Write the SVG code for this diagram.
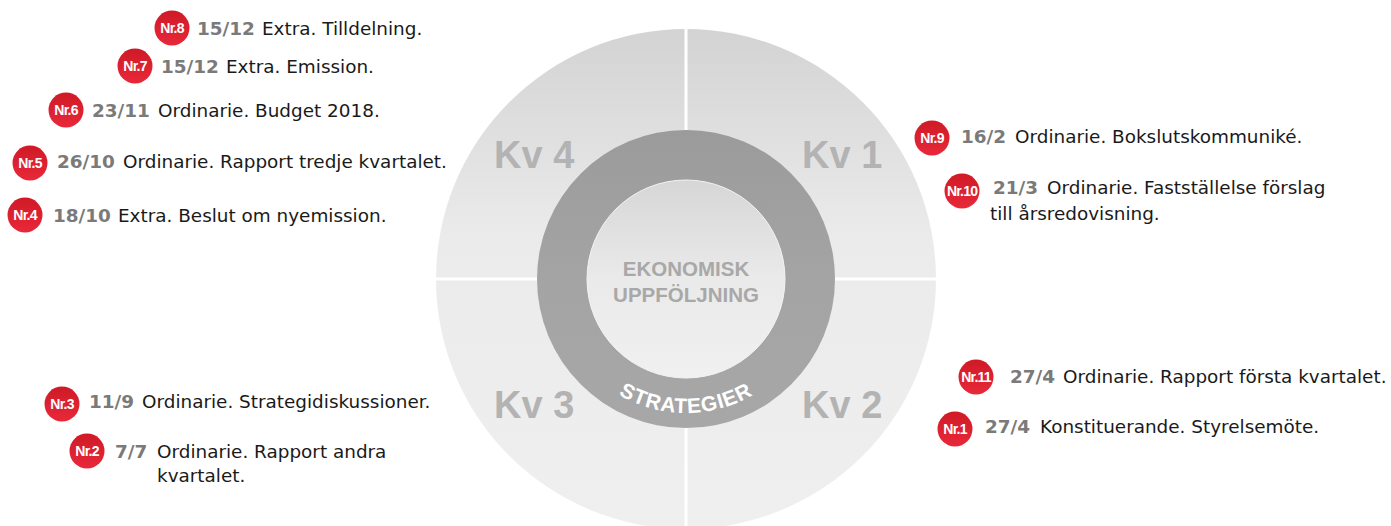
<svg xmlns="http://www.w3.org/2000/svg" width="1391" height="526" viewBox="0 0 1391 526">
<defs>
<linearGradient id="gBig" x1="0" y1="29" x2="0" y2="529" gradientUnits="userSpaceOnUse">
<stop offset="0" stop-color="#d3d3d3"/><stop offset="0.42" stop-color="#ebebeb"/><stop offset="1" stop-color="#efefef"/>
</linearGradient>
<linearGradient id="gRing" x1="0" y1="130" x2="0" y2="428" gradientUnits="userSpaceOnUse">
<stop offset="0" stop-color="#9b9b9b"/><stop offset="0.5" stop-color="#a4a4a4"/><stop offset="1" stop-color="#a7a7a7"/>
</linearGradient>
<linearGradient id="gIn" x1="0" y1="180" x2="0" y2="378" gradientUnits="userSpaceOnUse">
<stop offset="0" stop-color="#d6d6d6"/><stop offset="0.5" stop-color="#eaeaea"/><stop offset="1" stop-color="#f0f0f0"/>
</linearGradient>
<linearGradient id="gRed" x1="0" y1="0" x2="0" y2="1">
<stop offset="0" stop-color="#cf1a26"/><stop offset="1" stop-color="#e8283a"/>
</linearGradient>
<path id="arcS" d="M 552 279 A 134 134 0 0 0 820 279"/>
<style>
.b{fill:url(#gRed)}
.bt{font-family:"Liberation Sans",Arial,sans-serif;font-weight:bold;font-size:14px;fill:#fff;text-anchor:middle;letter-spacing:-0.8px}
.t{font-family:"DejaVu Sans",Verdana,sans-serif;font-size:18.4px;fill:#1a1a1a}
.d{font-weight:bold;fill:#7a7a7a}
.kv{font-family:"Liberation Sans",Arial,sans-serif;font-weight:bold;font-size:38px;fill:#b3b3b3}
.c{font-family:"Liberation Sans",Arial,sans-serif;font-weight:bold;font-size:20.5px;fill:#a8a8a8;text-anchor:middle}
.s{font-family:"Liberation Sans",Arial,sans-serif;font-weight:bold;font-size:21px;fill:#ffffff;letter-spacing:0.8px}
</style>
</defs>
<rect width="1391" height="526" fill="#ffffff"/>
<g id="wheel">
<circle cx="686" cy="279" r="250" fill="url(#gBig)"/>
<line x1="686" y1="28" x2="686" y2="526" stroke="#ffffff" stroke-width="3"/>
<line x1="435" y1="279" x2="937" y2="279" stroke="#ffffff" stroke-width="3"/>
<circle cx="686" cy="279" r="149" fill="url(#gRing)"/>
<circle cx="686" cy="279" r="99" fill="url(#gIn)" stroke="#f4f4f4" stroke-width="1"/>
<text class="kv" x="494" y="168">Kv 4</text>
<text class="kv" x="802" y="168">Kv 1</text>
<text class="kv" x="494" y="418">Kv 3</text>
<text class="kv" x="802" y="418">Kv 2</text>
<text class="c" x="686" y="276">EKONOMISK</text>
<text class="c" x="686" y="302">UPPFÖLJNING</text>
<text class="s"><textPath href="#arcS" startOffset="50%" text-anchor="middle">STRATEGIER</textPath></text>
</g>
<g id="connectors"/>
<g id="nr8"><circle class="b" cx="172" cy="28" r="17.5"/><text class="bt" x="172" y="33">Nr.8</text>
<text class="t" x="197" y="35"><tspan class="d">15/12</tspan><tspan x="262">Extra. Tilldelning.</tspan></text></g>
<g id="nr7"><circle class="b" cx="135" cy="66" r="17.5"/><text class="bt" x="135" y="71">Nr.7</text>
<text class="t" x="161" y="73"><tspan class="d">15/12</tspan><tspan x="226">Extra. Emission.</tspan></text></g>
<g id="nr6"><circle class="b" cx="66" cy="110" r="17.5"/><text class="bt" x="66" y="115">Nr.6</text>
<text class="t" x="92" y="117"><tspan class="d">23/11</tspan><tspan x="158">Ordinarie. Budget 2018.</tspan></text></g>
<g id="nr5"><circle class="b" cx="30" cy="163" r="17.5"/><text class="bt" x="30" y="168">Nr.5</text>
<text class="t" x="57" y="168"><tspan class="d">26/10</tspan><tspan x="123">Ordinarie. Rapport tredje kvartalet.</tspan></text></g>
<g id="nr4"><circle class="b" cx="25" cy="215" r="17.5"/><text class="bt" x="25" y="220">Nr.4</text>
<text class="t" x="53" y="222"><tspan class="d">18/10</tspan><tspan x="118">Extra. Beslut om nyemission.</tspan></text></g>
<g id="nr9"><circle class="b" cx="932" cy="138" r="17.5"/><text class="bt" x="932" y="143">Nr.9</text>
<text class="t" x="961" y="143"><tspan class="d">16/2</tspan><tspan x="1015">Ordinarie. Bokslutskommuniké.</tspan></text></g>
<g id="nr10"><circle class="b" cx="962" cy="191" r="17.5"/><text class="bt" x="962" y="196">Nr.10</text>
<text class="t" x="993" y="194"><tspan class="d">21/3</tspan><tspan x="1047">Ordinarie. Fastställelse förslag</tspan><tspan x="990" y="220">till årsredovisning.</tspan></text></g>
<g id="nr11"><circle class="b" cx="976" cy="377" r="17.5"/><text class="bt" x="976" y="382">Nr.11</text>
<text class="t" x="1010" y="383"><tspan class="d">27/4</tspan><tspan x="1063">Ordinarie. Rapport första kvartalet.</tspan></text></g>
<g id="nr1"><circle class="b" cx="955" cy="429" r="17.5"/><text class="bt" x="955" y="434">Nr.1</text>
<text class="t" x="985" y="433"><tspan class="d">27/4</tspan><tspan x="1040">Konstituerande. Styrelsemöte.</tspan></text></g>
<g id="nr3"><circle class="b" cx="62" cy="404" r="17.5"/><text class="bt" x="62" y="409">Nr.3</text>
<text class="t" x="89" y="408"><tspan class="d">11/9</tspan><tspan x="142">Ordinarie. Strategidiskussioner.</tspan></text></g>
<g id="nr2"><circle class="b" cx="87" cy="451" r="17.5"/><text class="bt" x="87" y="456">Nr.2</text>
<text class="t" x="115" y="458"><tspan class="d">7/7</tspan><tspan x="157">Ordinarie. Rapport andra</tspan><tspan x="157" y="482">kvartalet.</tspan></text></g>
</svg>
